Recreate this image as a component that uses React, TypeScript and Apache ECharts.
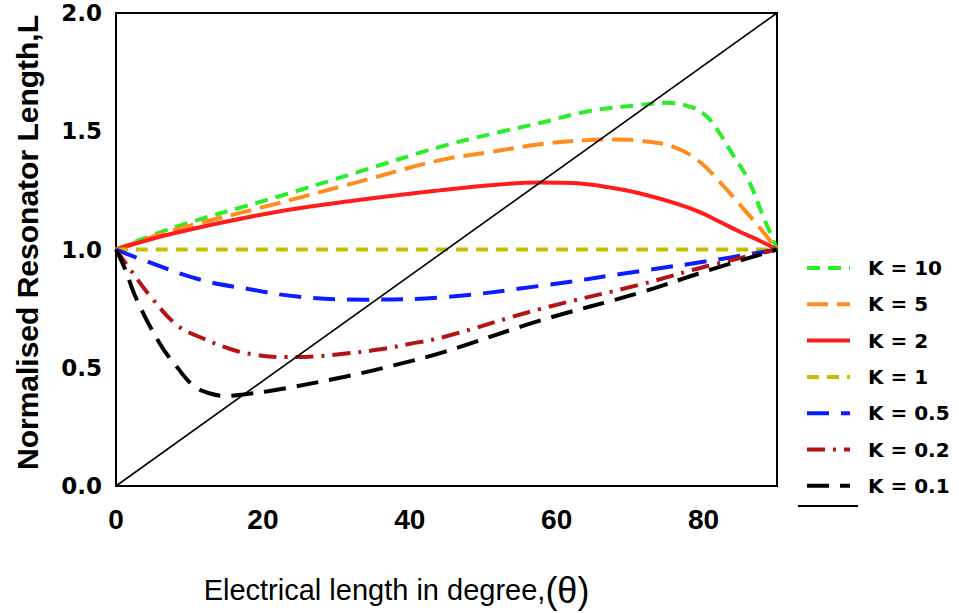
import React, { useEffect, useRef } from "react";
import * as echarts from "echarts";

// ---- data ----
const seriesNames = ["K = 10", "K = 5", "K = 2", "K = 1", "K = 0.5", "K = 0.2", "K = 0.1"];

const theta10 = [0, 8, 22, 33, 44, 51, 58, 64.5, 71, 75, 78.5, 80.5, 82, 84, 86, 88, 90];
const k10 = [1.0, 1.094, 1.223, 1.328, 1.433, 1.488, 1.537, 1.586, 1.61, 1.62, 1.6, 1.56, 1.5, 1.4, 1.3, 1.15, 1.0];

const theta5 = [0, 8, 22, 33, 44, 51, 58, 64.5, 68, 71.4, 76, 79.5, 82.2, 85, 87.7, 90];
const k5 = [1.0, 1.083, 1.195, 1.286, 1.377, 1.412, 1.446, 1.463, 1.465, 1.46, 1.433, 1.37, 1.286, 1.188, 1.09, 1.0];

const theta2 = [0, 8, 22, 33, 44, 51, 57.7, 61, 64.5, 68, 71.4, 76, 79.5, 82.2, 85, 87.7, 90];
const k2 = [1.0, 1.07, 1.16, 1.209, 1.25, 1.272, 1.283, 1.282, 1.275, 1.258, 1.237, 1.197, 1.158, 1.117, 1.074, 1.036, 1.0];

const theta1 = [0, 90];
const k1 = [1.0, 1.0];

const theta05 = [0, 3.3, 11.4, 18.2, 25, 34, 44, 57.7, 71.4, 80.4, 90];
const k05 = [1.0, 0.96, 0.873, 0.832, 0.8, 0.788, 0.797, 0.846, 0.909, 0.95, 1.0];

const theta02 = [0, 2.3, 5, 8.3, 11.4, 16, 19, 23, 27, 31, 36, 40, 44.5, 57.7, 71.4, 80.4, 90];
const k02 = [1.0, 0.9, 0.79, 0.68, 0.63, 0.575, 0.555, 0.545, 0.548, 0.559, 0.578, 0.601, 0.629, 0.748, 0.852, 0.929, 1.0];

const theta01 = [0, 1.2, 2.8, 6, 8.3, 10.5, 12.8, 15.1, 17.3, 20.5, 24.1, 31, 37.8, 44.6, 57.7, 71.4, 80.4, 90];
const k01 = [1.0, 0.92, 0.79, 0.6, 0.503, 0.426, 0.391, 0.381, 0.387, 0.4, 0.419, 0.461, 0.51, 0.566, 0.699, 0.818, 0.909, 1.0];

const diagX = [0, 90];
const diagY = [0, 2];

const xTicks = [0, 20, 40, 60, 80];
const yTicks = [0, 0.5, 1.0, 1.5, 2.0];

const xs = [theta10, theta5, theta2, theta1, theta05, theta02, theta01];
const ys = [k10, k5, k2, k1, k05, k02, k01];
const colors = ["#2bee2b", "#ff8c1e", "#ff1c1c", "#c6be00", "#0a1eff", "#b41414", "#000000"];
const dashes: any[] = [[13, 8], [21, 9], "solid", [12, 8], [22, 12], [18, 8, 3, 8], [22, 11]];

const pairs = (a: number[], b: number[]) => a.map((x, i) => [x, b[i]]);

export default function App() {
  const ref = useRef<HTMLDivElement>(null);
  useEffect(() => {
    if (!ref.current) return;
    const chart = echarts.init(ref.current, null, { renderer: "svg" });
    const series: any[] = seriesNames.map((name, i) => ({
      name,
      type: "line",
      data: pairs(xs[i], ys[i]),
      smooth: 0.4,
      symbol: "none",
      showSymbol: false,
      color: colors[i],
      lineStyle: { color: colors[i], width: 4, type: dashes[i] },
      z: 3,
    }));
    series.push({
      name: "diag",
      type: "line",
      data: pairs(diagX, diagY),
      symbol: "none",
      showSymbol: false,
      color: "#000",
      lineStyle: { color: "#000", width: 1.6 },
      z: 4,
    });
    chart.setOption({
      animation: false,
      backgroundColor: "#ffffff",
      grid: {
        left: 116,
        top: 13,
        width: 661,
        height: 477,
        show: true,
        borderColor: "#000",
        borderWidth: 2,
        backgroundColor: "transparent",
      },
      legend: [
        {
          data: seriesNames,
          orient: "vertical",
          left: 805,
          top: 257,
          padding: 0,
          itemWidth: 43,
          itemHeight: 14,
          itemGap: 14.3,
          lineStyle: { width: 4 },
          itemStyle: { opacity: 0 },
          textStyle: {
            fontFamily: "DejaVu Sans",
            fontWeight: "bold",
            fontSize: 20,
            lineHeight: 22,
            color: "#000",
            padding: [0, 0, 0, 13],
          },
          selectedMode: false,
        },
        {
          data: ["diag"],
          orient: "vertical",
          left: 797,
          top: 499,
          padding: 0,
          itemWidth: 60,
          itemHeight: 14,
          lineStyle: { width: 2 },
          itemStyle: { opacity: 0 },
          formatter: () => "",
          selectedMode: false,
        },
      ],
      xAxis: {
        type: "value",
        min: 0,
        max: 90,
        interval: 20,
        name: "Electrical length in degree,{t|(θ)}",
        nameLocation: "middle",
        nameGap: 86,
        nameTextStyle: {
          fontFamily: '"Liberation Sans", sans-serif',
          fontSize: 29,
          color: "#000",
          padding: [0, 100, 0, 0],
          rich: {
            t: {
              fontFamily: '"Liberation Sans", sans-serif',
              fontSize: 36,
              color: "#000",
            },
          },
        },
        axisLine: { show: true, lineStyle: { color: "#000", width: 2 } },
        axisTick: { show: false },
        splitLine: { show: false },
        axisLabel: {
          showMaxLabel: false,
          margin: 19,
          color: "#000",
          fontFamily: "Liberation Sans",
          fontWeight: "bold",
          fontSize: 28,
          formatter: (v: number) => (xTicks.includes(v) ? String(v) : ""),
        },
      },
      yAxis: {
        type: "value",
        min: 0,
        max: 2,
        interval: 0.5,
        name: "Normalised Resonator Length,L",
        nameLocation: "middle",
        nameGap: 74,
        nameRotate: 90,
        nameTextStyle: {
          fontFamily: "Liberation Sans",
          fontWeight: "bold",
          fontSize: 30,
          color: "#000",
          padding: [0, 0, 0, 14],
        },
        axisLine: { show: true, lineStyle: { color: "#000", width: 2 } },
        axisTick: { show: false },
        splitLine: { show: false },
        axisLabel: {
          margin: 14,
          color: "#000",
          fontFamily: "DejaVu Sans",
          fontWeight: "bold",
          fontSize: 23,
          formatter: (v: number) => (yTicks.includes(v) ? v.toFixed(1) : ""),
        },
      },
      series,
    });
    return () => chart.dispose();
  }, []);
  return (
    <div
      ref={ref}
      style={{ position: "absolute", left: 0, top: 0, width: 959, height: 613, background: "#fff" }}
    />
  );
}
